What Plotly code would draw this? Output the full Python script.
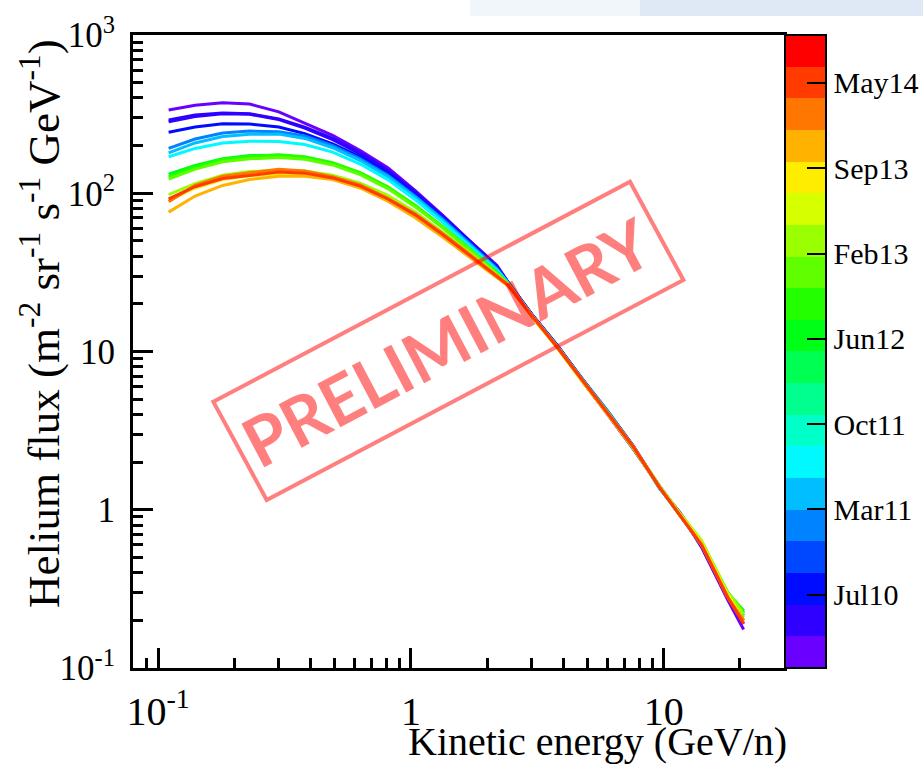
import colorsys
import plotly.graph_objects as go

# ---------------- data ----------------
energy = [0.11, 0.14, 0.18, 0.23, 0.30, 0.38, 0.49, 0.63, 0.81, 1.04, 1.33, 1.71, 2.19, 2.42,
          3.0, 3.8, 4.8, 6.0, 7.6, 9.6, 11.6, 14.1, 17.9, 20.7]

period_times = [2010.10, 2010.35, 2010.45, 2010.70, 2011.05, 2011.25, 2011.50,
                2012.45, 2012.65, 2012.90, 2013.15, 2013.70, 2013.95, 2014.20, 2014.50]

flux_p01 = [336, 360, 373, 366, 327, 278, 232, 186, 145, 104, 73, 50, 35, 27.5,
            17.2, 10.8, 6.4, 4.0, 2.40, 1.40, 0.95, 0.58, 0.27, 0.175]
flux_p02 = [290, 312, 322, 318, 295, 262, 222, 180, 140, 102, 72, 50, 34.5, 27.4,
            17.3, 10.9, 6.5, 4.1, 2.47, 1.42, 0.94, 0.59, 0.28, 0.19]
flux_p03 = [283, 305, 318, 316, 292, 258, 218, 177, 138, 100, 71, 49, 34, 27.2,
            17.1, 10.8, 6.6, 4.15, 2.50, 1.40, 0.93, 0.60, 0.29, 0.20]
flux_p04 = [243, 262, 275, 274, 262, 238, 205, 170, 134, 98, 70, 48.5, 34, 27.3,
            17.2, 10.9, 6.6, 4.2, 2.52, 1.38, 0.96, 0.61, 0.29, 0.225]
flux_p05 = [192, 220, 240, 247, 245, 230, 200, 165, 130, 96, 69, 48, 33.5, 27.2,
            17.1, 10.8, 6.6, 4.2, 2.50, 1.37, 0.94, 0.60, 0.29, 0.23]
flux_p06 = [180, 208, 228, 236, 237, 222, 194, 161, 127, 94, 68, 47.5, 33, 27.1,
            17.0, 10.7, 6.5, 4.15, 2.48, 1.38, 0.93, 0.61, 0.30, 0.215]
flux_p07 = [170, 192, 208, 213, 212, 203, 182, 153, 122, 91, 66, 46.5, 32.5, 27.0,
            17.0, 10.7, 6.5, 4.1, 2.46, 1.39, 0.92, 0.60, 0.29, 0.21]
flux_p08 = [132, 150, 165, 173, 174, 168, 155, 134, 109, 83, 61, 44, 31.5, 26.8,
            16.8, 10.6, 6.4, 4.1, 2.45, 1.40, 0.92, 0.62, 0.30, 0.22]
flux_p09 = [127, 146, 163, 170, 175, 170, 156, 135, 110, 84, 62, 44.5, 31.5, 26.8,
            16.9, 10.6, 6.5, 4.1, 2.44, 1.41, 0.93, 0.63, 0.30, 0.23]
flux_p10 = [123, 142, 158, 165, 168, 164, 151, 131, 107, 82, 61, 44, 31, 26.7,
            16.8, 10.5, 6.4, 4.05, 2.42, 1.40, 0.92, 0.62, 0.29, 0.21]
flux_p11 = [98, 115, 130, 137, 140, 138, 130, 116, 97, 76, 57, 42, 30.5, 26.6,
            16.9, 10.6, 6.45, 4.1, 2.48, 1.42, 0.95, 0.64, 0.30, 0.22]
flux_p12 = [90, 108, 122, 129, 133, 133, 126, 112, 93, 73, 55, 41, 30, 26.4,
            16.8, 10.6, 6.4, 4.05, 2.46, 1.40, 0.94, 0.62, 0.29, 0.20]
flux_p13 = [76, 96, 112, 122, 128, 128, 122, 108, 89, 70, 53, 39.5, 29.3, 26.0,
            16.7, 10.5, 6.35, 4.0, 2.44, 1.39, 0.93, 0.61, 0.28, 0.195]
flux_p14 = [88.5, 112, 128, 134, 142, 138, 127, 113, 93, 74, 56, 41, 30, 26.5,
            17.0, 10.7, 6.5, 4.1, 2.50, 1.40, 0.93, 0.60, 0.28, 0.20]
flux_p15 = [92, 110, 124, 130, 136, 134, 125, 111, 92, 73, 55, 40.5, 29.8, 26.3,
            16.9, 10.6, 6.5, 4.1, 2.48, 1.39, 0.92, 0.60, 0.28, 0.19]

flux_series = [flux_p01, flux_p02, flux_p03, flux_p04, flux_p05, flux_p06, flux_p07, flux_p08,
               flux_p09, flux_p10, flux_p11, flux_p12, flux_p13, flux_p14, flux_p15]

x_tickvals = [0.1, 1, 10]
x_ticktext = ["10<sup>-1</sup>", "1", "10"]
y_tickvals = [0.1, 1, 10, 100, 1000]
y_ticktext = ["10<sup>-1</sup>", "1", "10", "10<sup>2</sup>", "10<sup>3</sup>"]

time_min, time_max = 2010.0, 2014.75
cb_tickvals = [2010.55, 2011.19, 2011.83, 2012.47, 2013.11, 2013.75, 2014.39]
cb_ticktext = ["Jul10", "Mar11", "Oct11", "Jun12", "Feb13", "Sep13", "May14"]

# ---------------- style ----------------
N_BANDS = 20
palette = []
for k in range(N_BANDS):
    h = max(0.0, 265.0 - k * 265.0 / (N_BANDS - 1)) / 360.0
    r, g, b = colorsys.hsv_to_rgb(h, 1.0, 1.0)
    palette.append("rgb(%d,%d,%d)" % (round(r * 255), round(g * 255), round(b * 255)))

colorscale = []
for k, c in enumerate(palette):
    colorscale.append([k / N_BANDS, c])
    colorscale.append([(k + 1) / N_BANDS, c])


def band_color(t):
    k = int((t - time_min) / (time_max - time_min) * N_BANDS)
    return palette[min(max(k, 0), N_BANDS - 1)]


SERIF = "Liberation Serif"
W, H = 923, 768
L, R, T, B = 133, 784, 35, 668  # plot area in pixels


def px(xp):
    return (xp - L) / (R - L)


def py(yp):
    return (B - yp) / (B - T)


fig = go.Figure()

for t, flux in zip(period_times, flux_series):
    fig.add_trace(go.Scatter(
        x=energy, y=flux, mode="lines",
        line=dict(color=band_color(t), width=3),
        showlegend=False, hoverinfo="skip",
    ))

# colour bar
fig.add_trace(go.Scatter(
    x=[None], y=[None], mode="markers", showlegend=False,
    marker=dict(
        color=[time_min], cmin=time_min, cmax=time_max, colorscale=colorscale,
        showscale=True,
        colorbar=dict(
            xref="paper", x=px(785), xanchor="left",
            yref="paper", y=1.0, yanchor="top",
            thickness=41, thicknessmode="pixels",
            len=1.0, lenmode="fraction",
            xpad=0, ypad=0,
            outlinewidth=2, outlinecolor="black",
            tickmode="array", tickvals=cb_tickvals, ticktext=cb_ticktext,
            ticks="inside", ticklen=20, tickwidth=2, tickcolor="black",
            tickfont=dict(family=SERIF, size=30, color="black"),
        ),
    ),
))

x_minor = [0.09] + [d * 0.1 for d in range(2, 10)] + list(range(2, 10)) + [20]
y_minor = [d * 10.0 ** p for p in range(-1, 3) for d in range(2, 10)]

fig.update_xaxes(
    type="log", range=[-1.0996, 1.4757],
    showgrid=False, zeroline=False,
    showline=True, linecolor="black", linewidth=3, mirror=True,
    tickmode="array", tickvals=x_tickvals, ticktext=x_ticktext,
    ticks="inside", ticklen=20, tickwidth=2.5, tickcolor="black",
    ticklabelstandoff=6,
    tickfont=dict(family=SERIF, size=40, color="black"),
    minor=dict(tickvals=x_minor, ticks="inside", ticklen=10, tickwidth=2.5,
               tickcolor="black", showgrid=False),
)
fig.update_yaxes(
    type="log", range=[-1, 3],
    showgrid=False, zeroline=False,
    showline=True, linecolor="black", linewidth=3, mirror=True,
    tickmode="array", tickvals=y_tickvals, ticktext=y_ticktext,
    ticks="inside", ticklen=20, tickwidth=2.5, tickcolor="black",
    ticklabelstandoff=8,
    tickfont=dict(family=SERIF, size=35, color="black"),
    minor=dict(tickvals=y_minor, ticks="inside", ticklen=10, tickwidth=2.5,
               tickcolor="black", showgrid=False),
)

stamp = "rgba(255,0,0,0.5)"
corners = [(213.3, 401.7), (630.0, 181.7), (683.4, 280.0), (266.7, 500.0)]
path = "M " + " L ".join("%.4f,%.4f" % (px(a), py(b)) for a, b in corners) + " Z"

shapes = [
    dict(type="path", xref="paper", yref="paper", path=path,
         line=dict(color=stamp, width=4), fillcolor="rgba(0,0,0,0)", layer="above"),
    dict(type="rect", xref="paper", yref="paper", x0=px(470), x1=px(640), y0=py(16), y1=py(0),
         line=dict(width=0), fillcolor="rgba(215,228,243,0.35)", layer="below"),
    dict(type="rect", xref="paper", yref="paper", x0=px(640), x1=px(923), y0=py(16), y1=py(0),
         line=dict(width=0), fillcolor="rgba(215,228,243,0.8)", layer="below"),
]

annotations = [
    dict(text="PRELIMINARY", xref="paper", yref="paper", x=px(446), y=py(341),
         showarrow=False, textangle=-27.8,
         font=dict(family="Lato", size=68, color=stamp, weight="bold")),
    dict(text="Helium flux (m<sup>-2</sup> sr<sup>-1</sup> s<sup>-1</sup> GeV<sup>-1</sup>)",
         xref="paper", yref="paper", x=px(71), y=py(37), xanchor="right", yanchor="top",
         textangle=-90, showarrow=False,
         font=dict(family=SERIF, size=45, color="black")),
    dict(text="Kinetic energy (GeV/n)", xref="paper", yref="paper",
         x=px(789), y=py(766), xanchor="right", yanchor="bottom", showarrow=False,
         font=dict(family=SERIF, size=40, color="black")),
]

fig.update_layout(
    width=W, height=H,
    margin=dict(l=L, r=W - R, t=T, b=H - B, autoexpand=False),
    paper_bgcolor="white", plot_bgcolor="white",
    shapes=shapes, annotations=annotations,
    showlegend=False,
)

fig.write_html("out.html", config={"displayModeBar": False},
               post_script="document.body.style.margin='0px';document.body.style.overflow='hidden';")
